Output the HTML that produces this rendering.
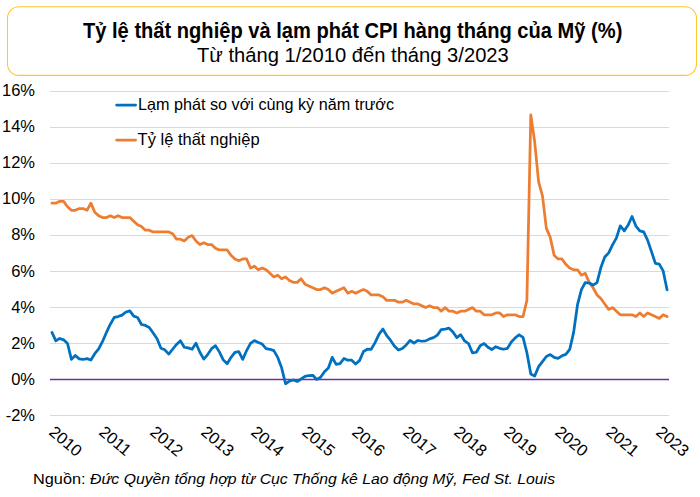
<!DOCTYPE html>
<html><head><meta charset="utf-8">
<style>
html,body{margin:0;padding:0;background:#fff;}
body{width:700px;height:497px;overflow:hidden;position:relative;font-family:"Liberation Sans",sans-serif;color:#000;}
.t{position:absolute;white-space:nowrap;line-height:1;}
#title{left:82.5px;top:19.5px;font-size:22px;font-weight:bold;transform-origin:0 0;transform:scaleX(0.9135);}
#sub{left:197px;top:46px;font-size:19.3px;transform-origin:0 0;transform:scaleX(1.046);}
.yl{position:absolute;right:665px;font-size:16.5px;line-height:1;white-space:nowrap;}
.xl{position:absolute;font-size:16.5px;line-height:1;white-space:nowrap;transform-origin:0 0;transform:rotate(40deg);}
#src{left:33.4px;top:471px;font-size:15.5px;transform-origin:0 0;transform:scaleX(1.052);}
#srcb{left:90.2px;top:471px;font-size:15.5px;transform-origin:0 0;transform:scaleX(1.017);}
svg{position:absolute;left:0;top:0;}
</style></head><body>
<div class="t" id="title">Tỷ lệ thất nghiệp và lạm phát CPI hàng tháng của Mỹ (%)</div>
<div class="t" id="sub">Từ tháng 1/2010 đến tháng 3/2023</div>
<svg width="700" height="497" viewBox="0 0 700 497">
<rect x="7.5" y="6.7" width="689" height="68.7" rx="11.5" ry="11.5" fill="none" stroke="#FFC62E" stroke-width="1.05"/>
<g stroke="#D9D9D9" stroke-width="1" shape-rendering="crispEdges">
<line x1="50" x2="669" y1="91.5" y2="91.5"/>
<line x1="50" x2="669" y1="127.5" y2="127.5"/>
<line x1="50" x2="669" y1="163.5" y2="163.5"/>
<line x1="50" x2="669" y1="199.5" y2="199.5"/>
<line x1="50" x2="669" y1="235.5" y2="235.5"/>
<line x1="50" x2="669" y1="271.5" y2="271.5"/>
<line x1="50" x2="669" y1="307.5" y2="307.5"/>
<line x1="50" x2="669" y1="343.5" y2="343.5"/>
<line x1="50" x2="669" y1="415.5" y2="415.5"/>
</g>
<line x1="50" x2="669" y1="379.6" y2="379.6" stroke="#7030A0" stroke-width="1.5"/>
<path d="M51.95,203.14 L55.84,203.14 L59.73,201.34 L63.63,201.34 L67.52,206.74 L71.41,210.34 L75.31,210.34 L79.20,208.54 L83.09,208.54 L86.98,210.34 L90.88,203.14 L94.77,212.14 L98.66,215.75 L102.56,217.55 L106.45,217.55 L110.34,215.75 L114.24,217.55 L118.13,215.75 L122.02,217.55 L125.92,217.55 L129.81,217.55 L133.70,221.15 L137.59,224.75 L141.49,226.55 L145.38,230.15 L149.27,230.15 L153.17,231.95 L157.06,231.95 L160.95,231.95 L164.85,231.95 L168.74,231.95 L172.63,233.75 L176.53,239.15 L180.42,239.15 L184.31,240.95 L188.20,237.35 L192.10,235.55 L195.99,240.95 L199.88,244.56 L203.78,242.75 L207.67,244.56 L211.56,244.56 L215.46,248.16 L219.35,249.96 L223.24,249.96 L227.14,249.96 L231.03,255.36 L234.92,258.96 L238.81,260.76 L242.71,258.96 L246.60,258.96 L250.49,267.96 L254.39,266.16 L258.28,269.76 L262.17,267.96 L266.07,269.76 L269.96,273.36 L273.85,276.97 L277.75,275.17 L281.64,278.77 L285.53,276.97 L289.42,280.57 L293.32,282.37 L297.21,282.37 L301.10,278.77 L305.00,284.17 L308.89,285.97 L312.78,287.77 L316.68,289.57 L320.57,289.57 L324.46,287.77 L328.36,289.57 L332.25,293.17 L336.14,291.37 L340.03,289.57 L343.93,287.77 L347.82,293.17 L351.71,291.37 L355.61,293.17 L359.50,291.37 L363.39,289.57 L367.29,291.37 L371.18,294.97 L375.07,294.97 L378.97,294.97 L382.86,296.77 L386.75,300.37 L390.64,300.37 L394.54,300.37 L398.43,302.17 L402.32,302.17 L406.22,300.37 L410.11,302.17 L414.00,303.97 L417.90,303.97 L421.79,305.78 L425.68,307.58 L429.58,305.78 L433.47,307.58 L437.36,307.58 L441.25,311.18 L445.15,307.58 L449.04,311.18 L452.93,311.18 L456.83,312.98 L460.72,311.18 L464.61,311.18 L468.51,309.38 L472.40,307.58 L476.29,311.18 L480.19,311.18 L484.08,314.78 L487.97,314.78 L491.86,314.78 L495.76,312.98 L499.65,312.98 L503.54,316.58 L507.44,314.78 L511.33,314.78 L515.22,314.78 L519.12,316.58 L523.01,316.58 L526.90,300.37 L530.80,114.91 L534.69,141.92 L538.58,181.53 L542.47,195.94 L546.37,228.35 L550.26,237.35 L554.15,255.36 L558.05,258.96 L561.94,258.96 L565.83,264.36 L569.73,267.96 L573.62,269.76 L577.51,269.76 L581.41,275.17 L585.30,273.36 L589.19,282.37 L593.08,287.77 L596.98,294.97 L600.87,298.57 L604.76,303.97 L608.66,309.38 L612.55,307.58 L616.44,311.18 L620.34,314.78 L624.23,314.78 L628.12,314.78 L632.02,314.78 L635.91,316.58 L639.80,312.98 L643.69,316.58 L647.59,312.98 L651.48,314.78 L655.37,316.58 L659.27,318.38 L663.16,314.78 L667.05,316.58" fill="none" stroke="#ED7D31" stroke-width="2.75" stroke-linejoin="round" stroke-linecap="round"/>
<path d="M51.95,332.41 L55.84,340.87 L59.73,338.44 L63.63,339.86 L67.52,343.52 L71.41,359.40 L75.31,355.45 L79.20,358.89 L83.09,359.47 L86.98,358.59 L90.88,360.06 L94.77,353.71 L98.66,348.97 L102.56,341.34 L106.45,332.44 L110.34,324.20 L114.24,317.32 L118.13,316.54 L122.02,315.14 L125.92,311.99 L129.81,310.94 L133.70,316.18 L137.59,317.46 L141.49,324.47 L145.38,325.42 L149.27,327.42 L153.17,333.09 L157.06,338.67 L160.95,348.31 L164.85,349.82 L168.74,354.07 L172.63,349.24 L176.53,344.49 L180.42,340.78 L184.31,347.26 L188.20,347.91 L192.10,349.28 L195.99,343.26 L199.88,352.25 L203.78,359.09 L207.67,354.57 L211.56,348.70 L215.46,345.66 L219.35,351.89 L223.24,359.88 L227.14,363.81 L231.03,357.40 L234.92,352.36 L238.81,351.55 L242.71,359.43 L246.60,350.56 L250.49,343.32 L254.39,340.58 L258.28,342.53 L262.17,344.06 L266.07,348.72 L269.96,349.28 L273.85,350.61 L277.75,357.42 L281.64,367.84 L285.53,383.74 L289.42,381.17 L293.32,380.00 L297.21,381.47 L301.10,378.97 L305.00,376.36 L308.89,375.53 L312.78,375.26 L316.68,379.44 L320.57,377.30 L324.46,371.75 L328.36,368.09 L332.25,357.31 L336.14,364.35 L340.03,363.54 L343.93,358.48 L347.82,360.19 L351.71,360.17 L355.61,363.97 L359.50,360.60 L363.39,351.71 L367.29,349.24 L371.18,349.28 L375.07,342.67 L378.97,334.40 L382.86,329.00 L386.75,335.65 L390.64,340.42 L394.54,346.18 L398.43,350.05 L402.32,348.54 L406.22,344.88 L410.11,340.33 L414.00,343.21 L417.90,340.49 L421.79,341.25 L425.68,340.87 L429.58,338.85 L433.47,337.63 L437.36,335.11 L441.25,329.51 L445.15,329.04 L449.04,328.21 L452.93,332.01 L456.83,337.61 L460.72,334.73 L464.61,340.94 L468.51,343.55 L472.40,352.81 L476.29,352.25 L480.19,345.69 L484.08,343.57 L487.97,347.26 L491.86,349.51 L495.76,346.72 L499.65,348.31 L503.54,349.28 L507.44,348.38 L511.33,341.93 L515.22,337.83 L519.12,334.77 L523.01,337.45 L526.90,352.70 L530.80,373.96 L534.69,376.03 L538.58,366.69 L542.47,361.65 L546.37,356.53 L550.26,354.55 L554.15,357.45 L558.05,358.42 L561.94,355.83 L565.83,354.39 L569.73,349.42 L573.62,332.42 L577.51,304.70 L581.41,289.70 L585.30,282.53 L589.19,283.00 L593.08,285.05 L596.98,282.55 L600.87,267.57 L604.76,257.00 L608.66,252.91 L612.55,244.92 L616.44,237.87 L620.34,225.79 L624.23,230.89 L628.12,225.07 L632.02,216.47 L635.91,226.10 L639.80,230.82 L643.69,231.91 L647.59,240.14 L651.48,251.58 L655.37,263.39 L659.27,264.18 L663.16,270.92 L667.05,289.84" fill="none" stroke="#0070C0" stroke-width="2.75" stroke-linejoin="round" stroke-linecap="round"/>
<line x1="116.6" x2="135.6" y1="105" y2="105" stroke="#0070C0" stroke-width="2.75" stroke-linecap="round"/>
<line x1="116.6" x2="135.6" y1="140" y2="140" stroke="#ED7D31" stroke-width="2.75" stroke-linecap="round"/>
</svg>
<div class="t" style="left:137.9px;top:96px;font-size:16.5px;transform-origin:0 0;transform:scaleX(0.981);">Lạm phát so với cùng kỳ năm trước</div>
<div class="t" style="left:137.6px;top:131px;font-size:16.5px;">Tỷ lệ thất nghiệp</div>
<div class="yl" style="top:82.00px">16%</div>
<div class="yl" style="top:118.12px">14%</div>
<div class="yl" style="top:154.24px">12%</div>
<div class="yl" style="top:190.36px">10%</div>
<div class="yl" style="top:226.48px">8%</div>
<div class="yl" style="top:262.60px">6%</div>
<div class="yl" style="top:298.72px">4%</div>
<div class="yl" style="top:334.84px">2%</div>
<div class="yl" style="top:370.96px">0%</div>
<div class="yl" style="top:407.08px">-2%</div>
<div class="xl" style="left:56.7px;top:422.7px">2010</div>
<div class="xl" style="left:107.4px;top:422.7px">2011</div>
<div class="xl" style="left:158.0px;top:422.7px">2012</div>
<div class="xl" style="left:208.6px;top:422.7px">2013</div>
<div class="xl" style="left:259.2px;top:422.7px">2014</div>
<div class="xl" style="left:309.8px;top:422.7px">2015</div>
<div class="xl" style="left:360.4px;top:422.7px">2016</div>
<div class="xl" style="left:411.0px;top:422.7px">2017</div>
<div class="xl" style="left:461.6px;top:422.7px">2018</div>
<div class="xl" style="left:512.2px;top:422.7px">2019</div>
<div class="xl" style="left:562.8px;top:422.7px">2020</div>
<div class="xl" style="left:613.5px;top:422.7px">2021</div>
<div class="xl" style="left:664.1px;top:422.7px">2023</div>
<div class="t" id="src">Nguồn:</div><div class="t" id="srcb"><i>Đức Quyền tổng hợp từ Cục Thống kê Lao động Mỹ, Fed St. Louis</i></div>
</body></html>
